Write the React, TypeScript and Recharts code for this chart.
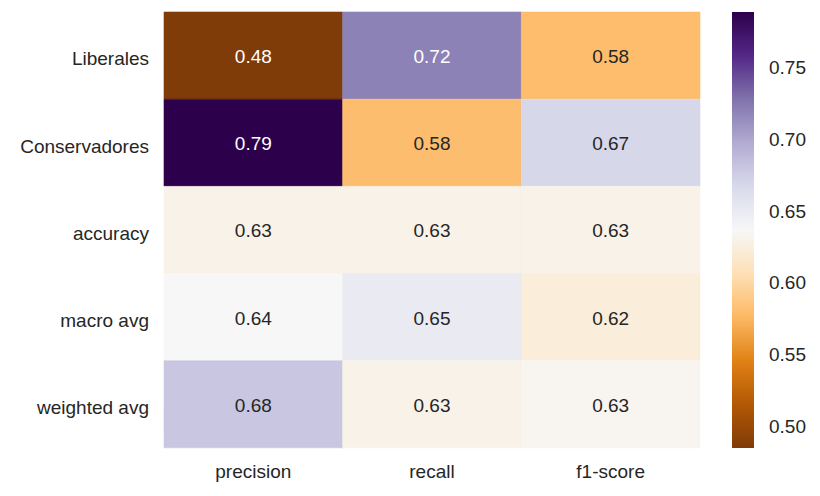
import React from "react";
import { BarChart, Bar, XAxis, YAxis, Cell, LabelList } from "recharts";

const rowLabels = ["Liberales", "Conservadores", "accuracy", "macro avg", "weighted avg"];
const columns = ["precision", "recall", "f1-score"];
const precisionValues = [0.4847, 0.7889, 0.63, 0.6368, 0.68];
const recallValues = [0.72, 0.58, 0.63, 0.65, 0.63];
const f1Values = [0.5794, 0.6685, 0.63, 0.623, 0.633];
const colorbarTicks = [0.5, 0.55, 0.6, 0.65, 0.7, 0.75];

const VMIN = 0.4847;
const VMAX = 0.7889;

const PUOR = [
  "#7f3b08", "#b35806", "#e08214", "#fdb863", "#fee0b6", "#f7f7f7",
  "#d8daeb", "#b2abd2", "#8073ac", "#542788", "#2d004b",
];

const hex2rgb = (h: string) => [1, 3, 5].map((i) => parseInt(h.slice(i, i + 2), 16));

function puor(t: number): number[] {
  const x = Math.max(0, Math.min(1, t)) * (PUOR.length - 1);
  const i = Math.min(Math.floor(x), PUOR.length - 2);
  const f = x - i;
  const a = hex2rgb(PUOR[i]);
  const b = hex2rgb(PUOR[i + 1]);
  return a.map((v, k) => v + (b[k] - v) * f);
}

const colorFor = (v: number) => {
  const c = puor((v - VMIN) / (VMAX - VMIN));
  return `rgb(${c.map((x) => Math.round(x)).join(",")})`;
};

const textColorFor = (v: number) => {
  const c = puor((v - VMIN) / (VMAX - VMIN)).map((x) => {
    const s = x / 255;
    return s <= 0.03928 ? s / 12.92 : Math.pow((s + 0.055) / 1.055, 2.4);
  });
  const lum = 0.2126 * c[0] + 0.7152 * c[1] + 0.0722 * c[2];
  return lum > 0.408 ? "#262626" : "#ffffff";
};

const seriesValues = [precisionValues, recallValues, f1Values];

const data = rowLabels.map((name, r) => {
  const row: any = { name };
  columns.forEach((c, j) => {
    row[`w${j}`] = 1;
    row[`v${j}`] = seriesValues[j][r];
  });
  return row;
});

const colorbarData = [{ name: "cb", range: [VMIN, VMAX] }];

const FONT = "'Liberation Sans', Arial, sans-serif";
const FS = 19;
const TXT = "#262626";

const makeLabel = (j: number) => (props: any) => {
  const { x, y, width, height, index } = props;
  const v = seriesValues[j][index];
  return (
    <text
      x={x + width / 2}
      y={y + height / 2 + 1}
      textAnchor="middle"
      dominantBaseline="central"
      fill={textColorFor(v)}
      fontSize={FS}
      fontFamily={FONT}
    >
      {v.toFixed(2)}
    </text>
  );
};

export default function App() {
  return (
    <div style={{ position: "absolute", left: 0, top: 0, width: 820, height: 496, background: "#fff", fontFamily: FONT }}>
      <div style={{ position: "absolute", left: 0, top: 0 }}>
        <BarChart
          width={820}
          height={496}
          data={data}
          layout="vertical"
          margin={{ top: 12, right: 120, bottom: 0, left: 0 }}
          barCategoryGap={0}
          barGap={0}
        >
          <XAxis
            type="number"
            domain={[0, 3]}
            ticks={[0.5, 1.5, 2.5]}
            tickFormatter={(v: number) => columns[Math.floor(v)]}
            axisLine={false}
            tickLine={false}
            tickSize={0}
            tickMargin={17}
            height={48}
            tick={{ fill: TXT, fontSize: FS, fontFamily: FONT }}
          />
          <YAxis
            type="category"
            dataKey="name"
            width={164}
            axisLine={false}
            tickLine={false}
            tickSize={0}
            tickMargin={15}
            tick={{ fill: TXT, fontSize: FS, fontFamily: FONT, dy: 3 }}
          />
          {columns.map((c, j) => (
            <Bar key={c} dataKey={`w${j}`} stackId="s" isAnimationActive={false}>
              {data.map((row, r) => {
                const col = colorFor(seriesValues[j][r]);
                return <Cell key={r} fill={col} stroke={col} strokeWidth={0.6} />;
              })}
              <LabelList dataKey={`v${j}`} content={makeLabel(j)} />
            </Bar>
          ))}
        </BarChart>
      </div>
      <div style={{ position: "absolute", left: 732, top: 0 }}>
        <BarChart
          width={88}
          height={496}
          data={colorbarData}
          margin={{ top: 12, right: 0, bottom: 48, left: 0 }}
          barCategoryGap={0}
        >
          <defs>
            <linearGradient id="puorGrad" x1="0" y1="1" x2="0" y2="0">
              {PUOR.map((c, i) => (
                <stop key={i} offset={i / (PUOR.length - 1)} stopColor={c} />
              ))}
            </linearGradient>
          </defs>
          <XAxis dataKey="name" hide />
          <YAxis
            orientation="right"
            type="number"
            domain={[VMIN, VMAX]}
            allowDataOverflow
            ticks={colorbarTicks}
            tickFormatter={(v: number) => v.toFixed(2)}
            width={66}
            axisLine={false}
            tickLine={false}
            tickSize={0}
            tickMargin={15}
            tick={{ fill: TXT, fontSize: FS, fontFamily: FONT }}
          />
          <Bar dataKey="range" fill="url(#puorGrad)" isAnimationActive={false} />
        </BarChart>
      </div>
    </div>
  );
}
